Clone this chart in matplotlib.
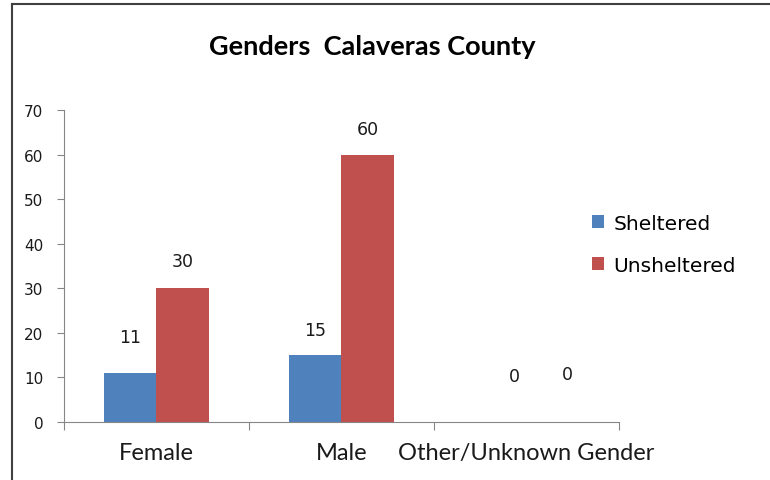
import matplotlib.pyplot as plt
import numpy as np

categories = ['Female', 'Male', 'Other/Unknown Gender']
sheltered = [11, 15, 0]
unsheltered = [30, 60, 0]

# label nudges (pixels) - the labels in the original were hand placed
shel_off = [(0, 36), (0, 25), (14, 46)]
unsh_off = [(0, 27), (0, 26), (15, 48)]

blue = '#4F81BD'
red = '#C0504D'
grey = '#868686'
txt = '#1a1a1a'

fig = plt.figure(figsize=(7.7, 4.81), dpi=100)
ax = fig.add_axes([0.0831, 0.1206, 0.7208, 0.6486])

x = np.arange(len(categories))
w = 0.284
ax.bar(x - w/2, sheltered, w, color=blue, label='Sheltered')
ax.bar(x + w/2, unsheltered, w, color=red, label='Unsheltered')

for xi, v, off in zip(x - w/2, sheltered, shel_off):
    ax.annotate(str(v), (xi, v), xytext=off, textcoords='offset pixels',
                ha='center', va='center', family='DejaVu Sans', size=12.5, color=txt)
for xi, v, off in zip(x + w/2, unsheltered, unsh_off):
    ax.annotate(str(v), (xi, v), xytext=off, textcoords='offset pixels',
                ha='center', va='center', family='DejaVu Sans', size=12.5, color=txt)

## FORMATTING
ax.set_xlim(-0.5, len(categories) - 0.5)
ax.set_ylim(0, 70)
ax.set_yticks(np.arange(0, 71, 10))
ax.set_xticks(np.arange(-0.5, len(categories), 1.0))
ax.set_xticklabels([])
ax.tick_params(axis='y', length=5, color=grey, labelsize=11, pad=10, labelcolor=txt)
ax.tick_params(axis='x', length=6, color=grey)
for s in ['top', 'right']:
    ax.spines[s].set_visible(False)
for s in ['left', 'bottom']:
    ax.spines[s].set_color(grey)

for xi, c in zip(x, categories):
    ax.annotate(c, (xi, 0), xytext=(0, -31), textcoords='offset pixels',
                ha='center', va='center', fontsize=17, family='Lato', color=txt)

fig.text(0.483, 0.902, 'Genders  Calaveras County', ha='center', va='center',
         fontsize=19.5, fontweight='bold', family='Lato')

ax.legend(loc='center left', bbox_to_anchor=(0.745, 0.49), bbox_transform=fig.transFigure,
          frameon=False, handlelength=0.62, handleheight=0.62,
          handletextpad=0.45, labelspacing=1.12,
          prop=dict(family='DejaVu Sans', size=14.5))

# chart border (cropped: only top and left edges show)
fig.add_artist(plt.Line2D([12/770, 1], [1 - 5/481, 1 - 5/481], color='#404040', lw=1.5,
                          transform=fig.transFigure))
fig.add_artist(plt.Line2D([12/770, 12/770], [0, 1 - 5/481], color='#404040', lw=1.5,
                          transform=fig.transFigure))

fig.savefig('out.png', dpi=100)
